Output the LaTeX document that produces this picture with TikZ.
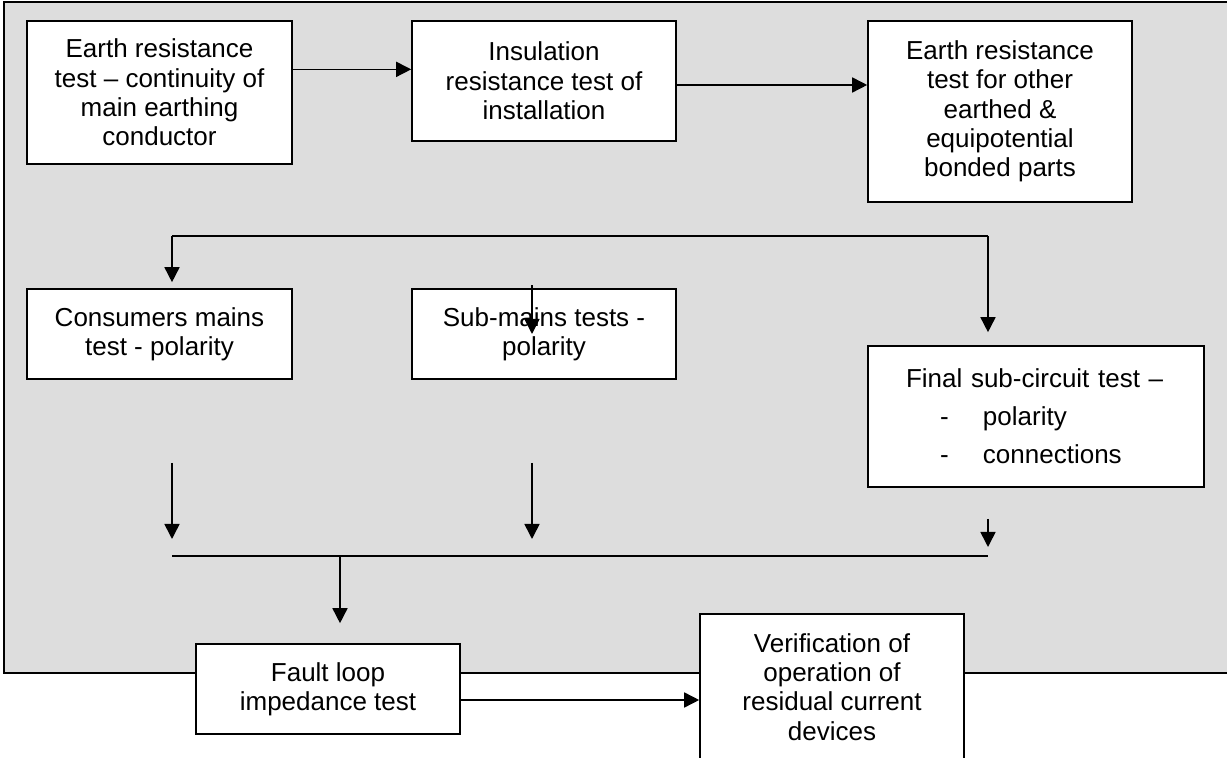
\documentclass[tikz,border=0pt]{standalone}
\usepackage{fontspec}
\setmainfont{Liberation Sans}
\usetikzlibrary{arrows.meta,calc}
\definecolor{panelgray}{HTML}{DDDDDD}

\begin{document}
\begin{tikzpicture}[x=0.5pt,y=-0.5pt,
    testbox/.style={draw,line width=0.8pt,fill=white,inner sep=0pt,align=center,
      font=\fontsize{13}{14.65}\selectfont},
    flow/.style={line width=0.8pt,-{Triangle[length=7.5pt,width=7.5pt]}}]
  \useasboundingbox (0,0) rectangle (1227,758);
  \clip (0,0) rectangle (1227,758);

  % grey panel behind the tests
  \draw[line width=0.8pt,fill=panelgray] (4,2) rectangle (1240,673);

  % first row
  \node[testbox,minimum width=132.5pt,minimum height=71.5pt] (earth) at (159.5,92.5)
    {Earth resistance\\ test – continuity of\\ main earthing\\ conductor};
  \node[testbox,minimum width=132pt,minimum height=60pt] (insul) at (544,81)
    {Insulation\\ resistance test of\\ installation};
  \node[testbox,minimum width=132pt,minimum height=90.5pt] (bonded) at (1000,111.5)
    {Earth resistance\\ test for other\\ earthed \&\\ equipotential\\ bonded parts};

  % second row
  \node[testbox,minimum width=132.5pt,minimum height=45pt] (consumer) at (159.5,334)
    {Consumers mains\\ test - polarity};
  \node[testbox,minimum width=132pt,minimum height=45pt] (submains) at (544,334)
    {Sub-mains tests -\\ polarity};
  \node[testbox,align=left,inner xsep=19pt,text width=130pt,minimum height=70.5pt] (final) at (1036,416.5)
    {Final sub-circuit test –\\[4.35pt]
     \hspace*{17pt}\makebox[21.5pt][l]{-}polarity\\[4.35pt]
     \hspace*{17pt}\makebox[21.5pt][l]{-}connections\\[1.5pt]};

  % last row
  \node[testbox,minimum width=132pt,minimum height=45pt] (fault) at (328,689)
    {Fault loop\\ impedance test};
  \node[testbox,minimum width=132pt,minimum height=73pt] (rcd) at (832,687)
    {Verification of\\ operation of\\ residual current\\ devices};

  % first row links
  \coordinate (e1) at ($(earth.north east)!.34!(earth.south east)$);
  \draw[flow] (e1) -- (e1 -| insul.west);
  \coordinate (i1) at ([yshift=-2pt]insul.east);
  \draw[flow] (i1) -- (i1 -| bonded.west);

  % upper bus
  \coordinate (busL) at (172,236);
  \coordinate (busR) at (988,236);
  \draw[line width=0.8pt] (busL) -- (busR);
  \draw[flow,shorten >=3pt] (busL) -- (busL |- consumer.north);
  \draw[flow,shorten >=6.5pt] (busR) -- (busR |- final.north);
  \coordinate (sm) at ([xshift=-6pt,yshift=1.5pt]submains.north);
  \draw[flow] (sm) -- (sm |- submains.center);

  % lower bus
  \coordinate (lowL) at (172,556);
  \coordinate (lowM) at (532,556);
  \coordinate (lowR) at (988,556);
  \coordinate (lowF) at (340,556);
  \draw[line width=0.8pt] (lowL) -- (lowR);
  \draw[flow] ([yshift=46.5pt]lowL) -- ([yshift=8.5pt]lowL);
  \draw[flow] ([yshift=46.5pt]lowM) -- ([yshift=8.5pt]lowM);
  \draw[flow] ([yshift=18.5pt]lowR) -- ([yshift=4.5pt]lowR);
  \draw[flow,shorten >=10pt] (lowF) -- (lowF |- fault.north);

  % last link
  \coordinate (f1) at ([yshift=-5.5pt]fault.east);
  \draw[flow] (f1) -- (f1 -| rcd.west);
\end{tikzpicture}
\end{document}
